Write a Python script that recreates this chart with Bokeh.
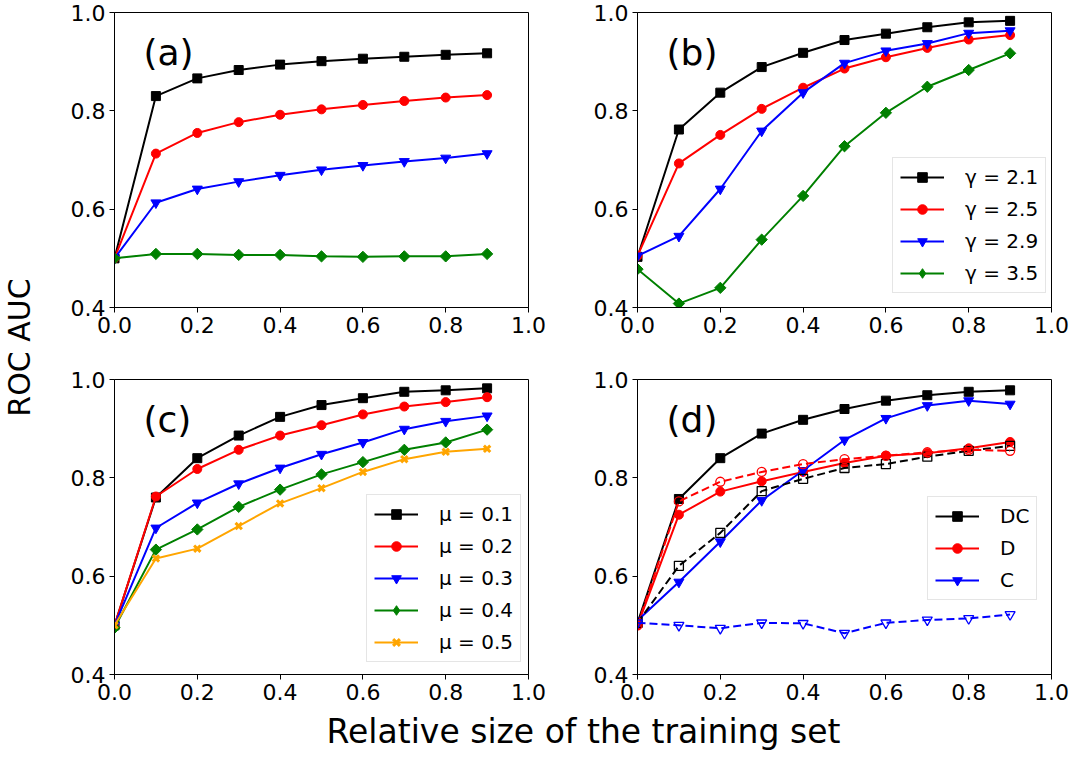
import numpy as np
from bokeh.plotting import figure
from bokeh.layouts import row, column
from bokeh.models import Label, FixedTicker, PrintfTickFormatter, Legend, LegendItem, Range1d
from bokeh.embed import file_html
from bokeh.resources import INLINE

FONT = "DejaVu Sans"

x = [0.0, 0.1, 0.2, 0.3, 0.4, 0.5, 0.6, 0.7, 0.8, 0.9]
x_ticks = [0.0, 0.2, 0.4, 0.6, 0.8, 1.0]
y_ticks = [0.4, 0.6, 0.8, 1.0]

# panel (a)
a_black = [0.500, 0.830, 0.866, 0.883, 0.894, 0.901, 0.906, 0.910, 0.914, 0.917]
a_red = [0.500, 0.713, 0.755, 0.777, 0.792, 0.803, 0.812, 0.820, 0.827, 0.832]
a_blue = [0.500, 0.613, 0.641, 0.656, 0.669, 0.680, 0.689, 0.697, 0.704, 0.713]
a_green = [0.500, 0.509, 0.509, 0.507, 0.507, 0.504, 0.503, 0.504, 0.504, 0.509]

# panel (b)
b_labels = ["γ = 2.1", "γ = 2.5", "γ = 2.9", "γ = 3.5"]
b_g21 = [0.503, 0.762, 0.837, 0.889, 0.918, 0.944, 0.957, 0.970, 0.980, 0.983]
b_g25 = [0.505, 0.693, 0.751, 0.804, 0.847, 0.886, 0.909, 0.928, 0.945, 0.954]
b_g29 = [0.505, 0.545, 0.641, 0.759, 0.837, 0.897, 0.922, 0.937, 0.958, 0.963]
b_g35 = [0.478, 0.408, 0.440, 0.538, 0.627, 0.728, 0.796, 0.849, 0.883, 0.917]

# panel (c)
c_labels = ["μ = 0.1", "μ = 0.2", "μ = 0.3", "μ = 0.4", "μ = 0.5"]
c_m01 = [0.500, 0.760, 0.840, 0.886, 0.924, 0.948, 0.962, 0.975, 0.978, 0.982]
c_m02 = [0.500, 0.762, 0.818, 0.857, 0.886, 0.907, 0.929, 0.945, 0.954, 0.964]
c_m03 = [0.500, 0.698, 0.749, 0.788, 0.820, 0.848, 0.872, 0.899, 0.915, 0.926]
c_m04 = [0.495, 0.654, 0.695, 0.741, 0.776, 0.807, 0.832, 0.857, 0.872, 0.898]
c_m05 = [0.500, 0.636, 0.656, 0.702, 0.748, 0.779, 0.812, 0.838, 0.853, 0.859]

# panel (d)
d_labels = ["DC", "D", "C"]
d_dc = [0.505, 0.757, 0.840, 0.890, 0.918, 0.940, 0.957, 0.968, 0.975, 0.978]
d_d = [0.500, 0.725, 0.772, 0.793, 0.812, 0.830, 0.845, 0.850, 0.860, 0.873]
d_c = [0.510, 0.588, 0.670, 0.754, 0.815, 0.877, 0.921, 0.947, 0.957, 0.950]
d_dc_alt = [0.505, 0.621, 0.688, 0.773, 0.798, 0.820, 0.828, 0.843, 0.855, 0.865]
d_d_alt = [0.500, 0.752, 0.792, 0.812, 0.828, 0.838, 0.845, 0.852, 0.857, 0.855]
d_c_alt = [0.505, 0.500, 0.494, 0.505, 0.504, 0.484, 0.505, 0.511, 0.514, 0.522]

BLACK, RED, BLUE, GREEN, ORANGE = "#000000", "#ff0000", "#0000ff", "#008000", "#ffa500"

MARK = {
    "s": dict(marker="square", size=9, angle=0.0),
    "o": dict(marker="circle", size=9, angle=0.0),
    "v": dict(marker="inverted_triangle", size=10, angle=0.0),
    "D": dict(marker="square", size=8, angle=np.pi / 4),
    "X": dict(marker="x", size=9, angle=0.0),
}


def make_panel(width, height, left, right, top, bottom, tag):
    p = figure(width=width, height=height, title=None, toolbar_location=None,
               output_backend="svg", x_range=Range1d(0, 1), y_range=Range1d(0.4, 1.0),
               min_border_left=left, min_border_right=right,
               min_border_top=top, min_border_bottom=bottom)
    p.outline_line_color = "black"
    p.outline_line_alpha = 1.0
    p.outline_line_width = 1
    p.xgrid.visible = False
    p.ygrid.visible = False
    p.xaxis.ticker = FixedTicker(ticks=x_ticks)
    p.yaxis.ticker = FixedTicker(ticks=y_ticks)
    for ax in (p.xaxis[0], p.yaxis[0]):
        ax.formatter = PrintfTickFormatter(format="%.1f")
        ax.major_label_text_font = FONT
        ax.major_label_text_font_size = "22px"
        ax.major_label_text_color = "black"
        ax.axis_line_color = "black"
        ax.major_tick_line_color = "black"
        ax.major_tick_in = 0
        ax.major_tick_out = 5
        ax.minor_tick_line_color = None
        ax.major_label_standoff = 4
    p.add_layout(Label(x=0.07, y=0.918, text=tag, text_font=FONT, text_font_size="36px",
                       text_baseline="middle", text_align="left", text_color="black"))
    return p


def series(p, ys, color, mk, dashed=False, hollow=False):
    m = MARK[mk]
    lr = p.line(x, ys, line_color=color, line_width=2,
                line_dash="8 4" if dashed else "solid")
    if mk == "X":
        sr = p.scatter(x, ys, marker=m["marker"], size=m["size"], angle=m["angle"],
                       line_color=color, line_width=3)
    else:
        sr = p.scatter(x, ys, marker=m["marker"], size=m["size"], angle=m["angle"],
                       line_color=color, line_width=1.3 if hollow else 1,
                       fill_color=color, fill_alpha=0.0 if hollow else 1.0)
    if mk == "D":
        # legend-only diamond swatch (a NaN point, nothing is drawn in the plot)
        key = p.scatter([np.nan], [np.nan], marker="diamond", size=14,
                        line_color=color, fill_color=color)
        return [lr, key]
    return [lr, sr]


def add_legend(p, items, loc):
    leg = Legend(items=[LegendItem(label=l, renderers=r) for l, r in items], location=loc,
                 label_text_font=FONT, label_text_font_size="20px", label_text_color="black",
                 glyph_width=44, glyph_height=24, label_height=24, spacing=8, padding=7,
                 margin=0, label_standoff=21, border_line_color="#cccccc", border_line_width=1,
                 background_fill_alpha=0.8)
    p.add_layout(leg, "center")


# layout geometry
W0 = 50
TOP_H = 349
BOT_H = 360
XLAB_H = 53

pa = make_panel(528, TOP_H, 64, 50, 12, 42, "(a)")
series(pa, a_black, BLACK, "s")
series(pa, a_red, RED, "o")
series(pa, a_blue, BLUE, "v")
series(pa, a_green, GREEN, "D")

pb = make_panel(493, TOP_H, 59, 20, 12, 42, "(b)")
rb = [series(pb, a, c, m) for a, c, m in
      [(b_g21, BLACK, "s"), (b_g25, RED, "o"), (b_g29, BLUE, "v"), (b_g35, GREEN, "D")]]
add_legend(pb, list(zip(b_labels, rb)), (255, 14))

pc = make_panel(528, BOT_H, 64, 50, 30, 35, "(c)")
rc = [series(pc, a, c, m) for a, c, m in
      [(c_m01, BLACK, "s"), (c_m02, RED, "o"), (c_m03, BLUE, "v"), (c_m04, GREEN, "D"),
       (c_m05, ORANGE, "X")]]
add_legend(pc, list(zip(c_labels, rc)), (252, 12))

pd_ = make_panel(493, BOT_H, 59, 20, 30, 35, "(d)")
rd = [series(pd_, a, c, m) for a, c, m in
      [(d_dc, BLACK, "s"), (d_d, RED, "o"), (d_c, BLUE, "v")]]
series(pd_, d_dc_alt, BLACK, "s", dashed=True, hollow=True)
series(pd_, d_d_alt, RED, "o", dashed=True, hollow=True)
series(pd_, d_c_alt, BLUE, "v", dashed=True, hollow=True)
add_legend(pd_, list(zip(d_labels, rd)), (290, 74))


def text_fig(w, h):
    f = figure(width=w, height=h, title=None, toolbar_location=None, output_backend="svg",
               x_range=Range1d(0, w), y_range=Range1d(0, h), x_axis_type=None, y_axis_type=None,
               min_border=0)
    f.outline_line_color = None
    f.xgrid.visible = False
    f.ygrid.visible = False
    return f


ylab = text_fig(W0, TOP_H + BOT_H)
ylab.add_layout(Label(x=19, y=TOP_H + BOT_H - 347, text="ROC AUC", angle=np.pi / 2,
                      text_font=FONT, text_font_size="30px", text_align="center",
                      text_baseline="middle", text_color="black"))

xlab = text_fig(1071, XLAB_H)
xlab.add_layout(Label(x=583, y=XLAB_H - 22, text="Relative size of the training set",
                      text_font=FONT, text_font_size="33px", text_align="center",
                      text_baseline="middle", text_color="black"))

layout = column(row(ylab, column(row(pa, pb), row(pc, pd_))), xlab)

open("out.html", "w").write(file_html(layout, INLINE))
